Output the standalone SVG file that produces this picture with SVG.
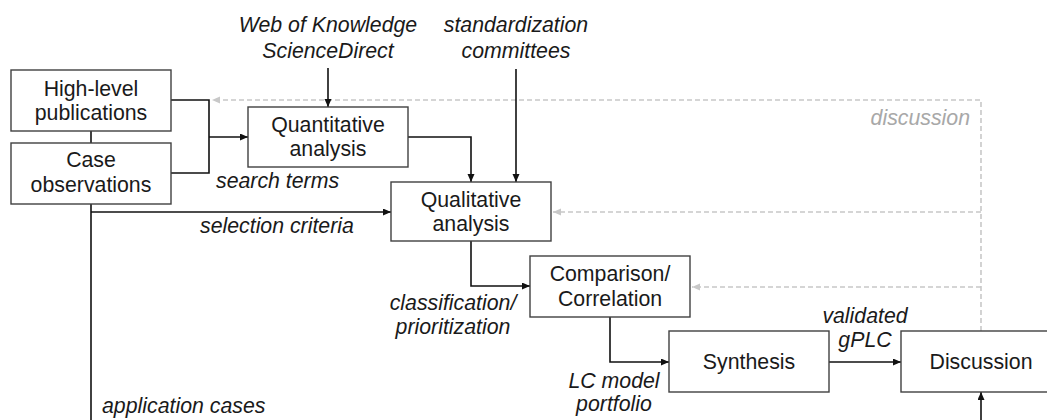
<svg xmlns="http://www.w3.org/2000/svg" width="1047" height="420" viewBox="0 0 1047 420">
  <defs>
    <style>
      .box { fill: #ffffff; stroke: #404040; stroke-width: 1.4; }
      .lbl { font-family: "Liberation Sans", Arial, sans-serif; font-size: 21.3px; fill: #1a1a1a; text-anchor: middle; }
      .it { font-family: "Liberation Sans", Arial, sans-serif; font-size: 21.3px; font-style: italic; fill: #1a1a1a; }
      .mid { text-anchor: middle; }
      .gray { fill: #a8a8a8; }
      .flow { fill: none; stroke: #111111; stroke-width: 1.6; }
      .fb { fill: none; stroke: #c8c8c8; stroke-width: 1.6; stroke-dasharray: 5 3; }
    </style>
    <marker id="arr" markerWidth="9" markerHeight="8" refX="8" refY="3.5" orient="auto" markerUnits="userSpaceOnUse">
      <path d="M0,0 L8,3.5 L0,7 z" fill="#111111"/>
    </marker>
    <marker id="arrG" markerWidth="9" markerHeight="8" refX="8" refY="3.5" orient="auto" markerUnits="userSpaceOnUse">
      <path d="M0,0 L8,3.5 L0,7 z" fill="#c8c8c8"/>
    </marker>
  </defs>

  <rect width="1047" height="420" fill="#ffffff"/>

  <!-- connectors -->
  <g id="connectors">
    <!-- feedback loops from Discussion -->
    <path class="fb" d="M981,331 V100 H212" marker-end="url(#arrG)"/>
    <path class="fb" d="M981,212 H553" marker-end="url(#arrG)"/>
    <path class="fb" d="M981,287 H692" marker-end="url(#arrG)"/>

    <!-- link between the two source boxes -->
    <path class="flow" d="M91,131 V143"/>
    <!-- bracket from sources into Quantitative analysis -->
    <path class="flow" d="M171,100 H209 V173 H171"/>
    <path class="flow" d="M209,137 H248" marker-end="url(#arr)"/>
    <!-- databases into Quantitative analysis -->
    <path class="flow" d="M328,68 V107" marker-end="url(#arr)"/>
    <!-- Quantitative to Qualitative -->
    <path class="flow" d="M408,137 H471 V182" marker-end="url(#arr)"/>
    <!-- standardization committees into Qualitative -->
    <path class="flow" d="M516,69 V182" marker-end="url(#arr)"/>
    <!-- selection criteria and application cases -->
    <path class="flow" d="M91,204 V420"/>
    <path class="flow" d="M91,212 H391" marker-end="url(#arr)"/>
    <!-- Qualitative to Comparison -->
    <path class="flow" d="M471,241 V286 H530" marker-end="url(#arr)"/>
    <!-- Comparison to Synthesis -->
    <path class="flow" d="M610,317 V362 H669" marker-end="url(#arr)"/>
    <!-- Synthesis to Discussion -->
    <path class="flow" d="M829,362 H901" marker-end="url(#arr)"/>
    <!-- application cases into Discussion -->
    <path class="flow" d="M981,420 V392" marker-end="url(#arr)"/>
  </g>

  <!-- nodes -->
  <g id="high-level-publications">
    <rect class="box" x="11" y="70" width="160" height="61"/>
    <text class="lbl" x="91" y="96">High-level</text>
    <text class="lbl" x="91" y="120">publications</text>
  </g>
  <g id="case-observations">
    <rect class="box" x="11" y="143" width="160" height="61"/>
    <text class="lbl" x="91" y="167">Case</text>
    <text class="lbl" x="91" y="192">observations</text>
  </g>
  <g id="quantitative-analysis">
    <rect class="box" x="248" y="107" width="160" height="60"/>
    <text class="lbl" x="328" y="132">Quantitative</text>
    <text class="lbl" x="328" y="156">analysis</text>
  </g>
  <g id="qualitative-analysis">
    <rect class="box" x="391" y="182" width="160" height="59"/>
    <text class="lbl" x="471" y="207">Qualitative</text>
    <text class="lbl" x="471" y="231">analysis</text>
  </g>
  <g id="comparison-correlation">
    <rect class="box" x="530" y="256" width="160" height="61"/>
    <text class="lbl" x="610" y="281">Comparison/</text>
    <text class="lbl" x="610" y="306">Correlation</text>
  </g>
  <g id="synthesis">
    <rect class="box" x="669" y="331" width="160" height="61"/>
    <text class="lbl" x="749" y="369">Synthesis</text>
  </g>
  <g id="discussion">
    <rect class="box" x="901" y="331" width="160" height="61"/>
    <text class="lbl" x="981" y="369">Discussion</text>
  </g>

  <!-- edge labels -->
  <g id="labels">
    <text class="it mid" x="328" y="32">Web of Knowledge</text>
    <text class="it mid" x="328" y="58">ScienceDirect</text>
    <text class="it mid" x="516" y="32">standardization</text>
    <text class="it mid" x="516" y="58">committees</text>
    <text class="it" x="216" y="188">search terms</text>
    <text class="it" x="200" y="233">selection criteria</text>
    <text class="it mid" x="453" y="310">classification/</text>
    <text class="it mid" x="453" y="334">prioritization</text>
    <text class="it mid" x="614" y="388">LC model</text>
    <text class="it mid" x="614" y="411">portfolio</text>
    <text class="it mid" x="865" y="323">validated</text>
    <text class="it mid" x="865" y="347">gPLC</text>
    <text class="it gray" x="970" y="125" text-anchor="end">discussion</text>
    <text class="it" x="102" y="413">application cases</text>
  </g>
</svg>
